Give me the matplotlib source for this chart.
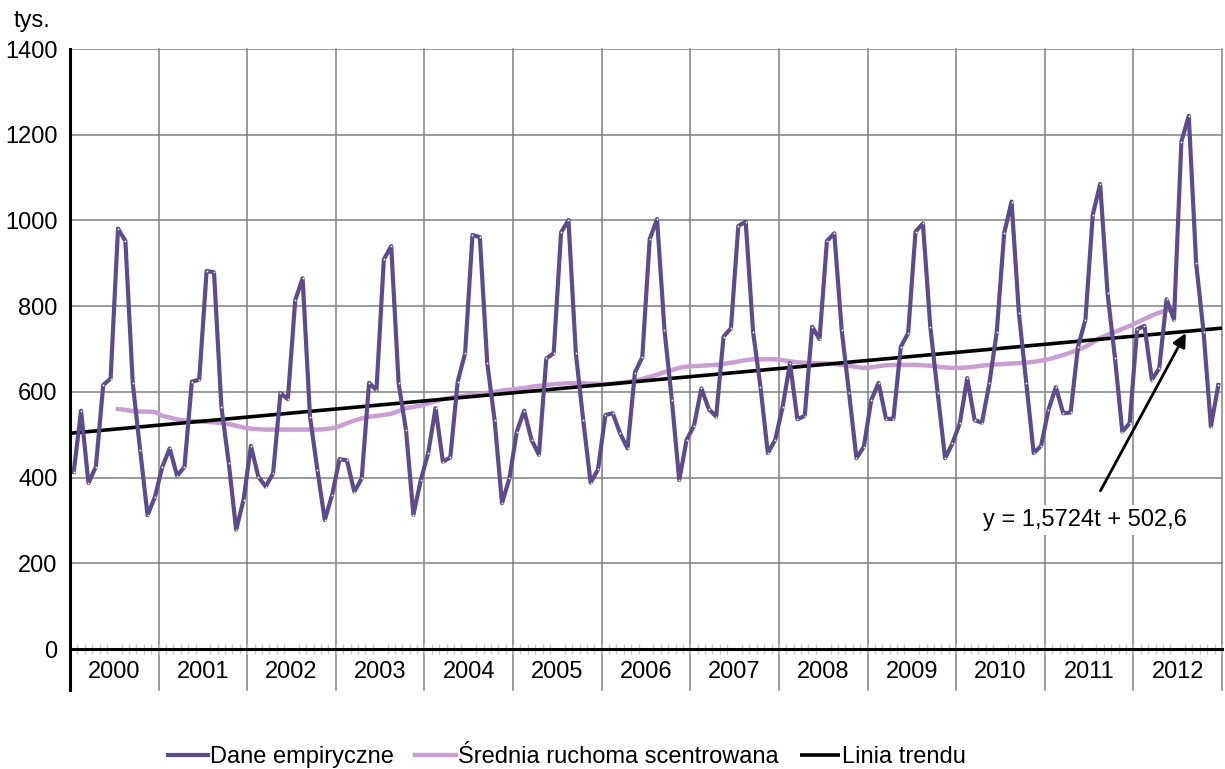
import numpy as np
import matplotlib.pyplot as plt
import matplotlib.transforms as mtransforms

plt.rcParams['font.family'] = ['Liberation Sans', 'DejaVu Sans']

years = ['2000', '2001', '2002', '2003', '2004', '2005', '2006',
         '2007', '2008', '2009', '2010', '2011', '2012']

# dane miesieczne (tys.)
empirical = [
    413, 556, 387, 425, 616, 631, 981, 952, 620, 464, 312, 355,
    425, 468, 404, 425, 624, 628, 882, 879, 565, 434, 278, 348,
    474, 402, 379, 410, 597, 583, 814, 865, 542, 418, 301, 360,
    443, 440, 367, 398, 621, 604, 909, 940, 620, 511, 313, 394,
    457, 562, 437, 447, 624, 690, 966, 961, 667, 534, 340, 398,
    507, 556, 488, 453, 678, 690, 972, 1001, 690, 534, 388, 419,
    546, 550, 503, 468, 645, 681, 956, 1003, 745, 581, 394, 488,
    521, 608, 560, 542, 729, 748, 987, 997, 740, 612, 457, 488,
    565, 667, 536, 544, 752, 723, 952, 970, 744, 597, 445, 472,
    581, 621, 537, 537, 705, 737, 974, 993, 752, 597, 445, 480,
    527, 632, 534, 528, 620, 740, 970, 1044, 783, 620, 457, 474,
    558, 611, 550, 552, 705, 768, 1013, 1085, 830, 680, 507, 527,
    746, 754, 628, 655, 816, 768, 1184, 1244, 900, 740, 519, 616,
]

# srednia ruchoma scentrowana: od lipca 2000 do czerwca 2012
moving_avg = [
    560, 558, 555, 554, 554, 553,
    544, 540, 536, 533, 532, 531, 530, 529, 527, 525, 521, 517,
    514, 513, 512, 512, 512, 512, 512, 512, 512, 512, 513, 515,
    520, 527, 533, 538, 542, 544, 546, 549, 555, 562, 565, 568,
    573, 578, 583, 586, 589, 591, 593, 595, 598, 600, 603, 605,
    607, 609, 612, 614, 616, 618, 619, 620, 620, 620, 619, 619,
    618, 619, 621, 623, 626, 630, 635, 640, 646, 651, 656, 659,
    660, 661, 662, 663, 665, 668, 671, 674, 676, 676, 676, 676,
    674, 671, 669, 668, 667, 667, 666, 665, 663, 661, 658, 656,
    657, 660, 662, 663, 663, 663, 663, 662, 661, 659, 657, 656,
    656, 657, 659, 661, 663, 664, 665, 666, 667, 668, 670, 673,
    676, 681, 686, 692, 698, 705, 715, 726, 733, 740, 747, 754,
    762, 770, 778, 785, 790, 795,
]
ma_start = 6  # lipiec 2000

# linia trendu z rownania na wykresie
trend_a = 1.5724
trend_b = 502.6
trend_label = 'y = 1,5724t + 502,6'

n = len(empirical)
x = np.arange(n) + 0.5
x_ma = np.arange(ma_start, ma_start + len(moving_avg)) + 0.5
t_trend = np.array([0.5, n + 0.5])
x_trend = t_trend - 0.5
y_trend = trend_a * t_trend + trend_b

fs = 17
fig = plt.figure(figsize=(12.25, 7.69), dpi=100)
ax = fig.add_axes([70 / 1225, 1 - 649 / 769, 1152 / 1225, 600 / 769])

grid_c = '#808080'
for v in range(200, 1401, 200):
    ax.axhline(v, color=grid_c, lw=1.1, zorder=1)
ext = 41 / 600
trans = mtransforms.blended_transform_factory(ax.transData, ax.transAxes)
for k in range(1, len(years) + 1):
    ax.plot([12 * k, 12 * k], [-ext, 1], color=grid_c, lw=1.1,
            transform=trans, clip_on=False, zorder=1)

ax.plot(x_trend, y_trend, color='black', lw=2.6, zorder=3,
        label='Linia trendu', solid_capstyle='butt')
ax.plot(x_ma, moving_avg, color='#CB9ED3', lw=3.2, zorder=2,
        label='Średnia ruchoma scentrowana')
ax.plot(x, empirical, color='#5E4B8B', lw=3.0, zorder=4,
        label='Dane empiryczne')
ax.plot(x, empirical, 'o', ms=1.3, color='white', mec='none', zorder=5)

ax.set_xlim(0, n)
ax.set_ylim(0, 1400)
ax.set_yticks(range(0, 1401, 200))
ax.tick_params(axis='y', length=0, labelsize=fs, pad=9)

ax.set_xticks(np.arange(len(years)) * 12 + 6)
ax.set_xticklabels(years)
ax.tick_params(axis='x', which='major', length=0, labelsize=fs, pad=9)
ax.set_xticks(np.arange(0, n + 1), minor=True)
ax.tick_params(axis='x', which='minor', length=7, direction='inout',
               color='#c8c8c8', width=1)

for s in ['top', 'right', 'left']:
    ax.spines[s].set_visible(False)
ax.spines['bottom'].set_linewidth(2.2)
ax.spines['bottom'].set_zorder(6)
ax.plot([0, 0], [-ext, 1], color='black', lw=2.2, transform=trans,
        clip_on=False, zorder=6)

fig.text(14 / 1225, 1 - 21 / 769, 'tys.', fontsize=fs, va='center')

ax.annotate(trend_label, xy=(151.1, 737), xytext=(137.4, 301),
            fontsize=fs, ha='center', va='center', zorder=7,
            arrowprops=dict(arrowstyle='-|>', color='black', lw=2,
                            mutation_scale=20, shrinkA=12, shrinkB=0),
            bbox=dict(boxstyle='square,pad=0.15', fc='white', ec='none'))

h, l = ax.get_legend_handles_labels()
order = [2, 1, 0]
fig.legend([h[i] for i in order], [l[i] for i in order],
           loc='center', bbox_to_anchor=(567 / 1225, 1 - 757 / 769),
           ncol=3, frameon=False, fontsize=fs, handlelength=1.7,
           handletextpad=0.1, columnspacing=0.9)

fig.savefig('out.png', dpi=100)
